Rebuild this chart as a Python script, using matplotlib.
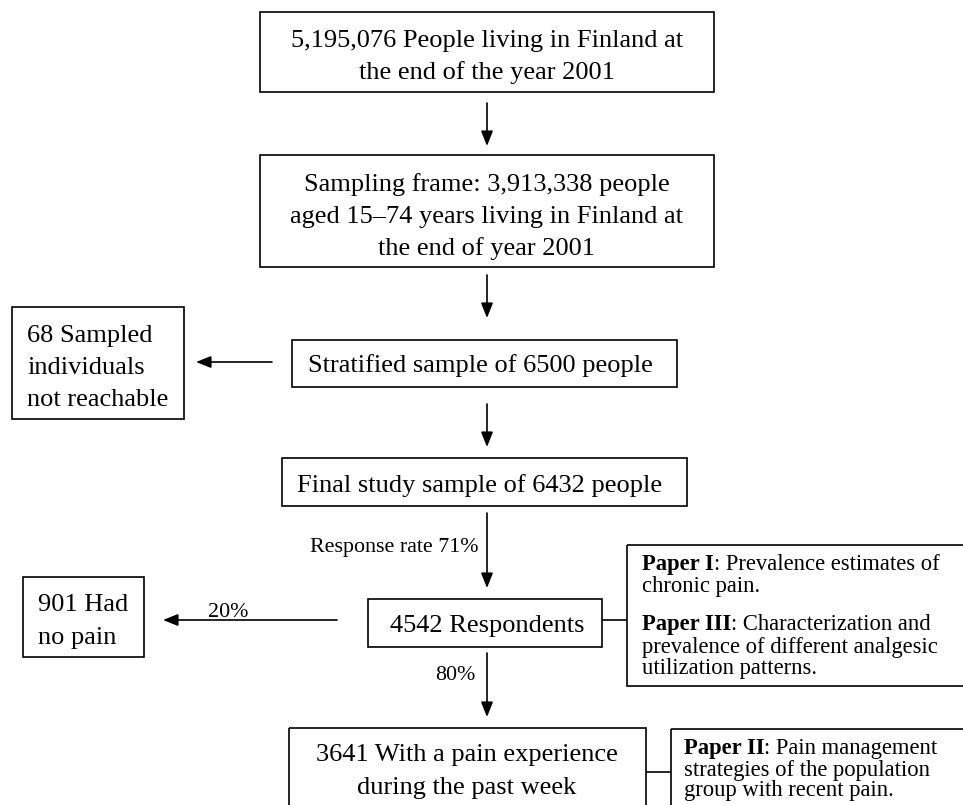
import matplotlib
matplotlib.use("Agg")
import matplotlib.pyplot as plt
from matplotlib.patches import Rectangle

plt.rcParams['font.family'] = ['Liberation Serif', 'DejaVu Serif']

# ---- data ----
population = 5195076
frame = 3913338
stratified = 6500
final_sample = 6432
not_reachable = 68
respondents = 4542
no_pain = 901
with_pain = 3641
response_rate = 71
pct_no_pain = 20
pct_pain = 80

box1_lines = [f"{population:,} People living in Finland at", "the end of the year 2001"]
box2_lines = [f"Sampling frame: {frame:,} people", "aged 15\u201374 years living in Finland at", "the end of year 2001"]
box3_text = f"Stratified sample of {stratified} people"
box68_lines = [f"{not_reachable} Sampled", "individuals", "not reachable"]
box4_text = f"Final study sample of {final_sample} people"
box5_text = f"{respondents} Respondents"
box901_lines = [f"{no_pain} Had", "no pain"]
box6_lines = [f"{with_pain} With a pain experience", "during the past week"]
paper13_lines = [("Paper I", ": Prevalence estimates of"), ("", "chronic pain."), None,
                 ("Paper III", ": Characterization and"), ("", "prevalence of different analgesic"),
                 ("", "utilization patterns.")]
paper2_lines = [("Paper II", ": Pain management"), ("", "strategies of the population"),
                ("", "group with recent pain.")]

W, H = 963, 805
fig = plt.figure(figsize=(W / 100, H / 100), dpi=100)
ax = fig.add_axes([0, 0, 1, 1])
ax.set_xlim(0, W)
ax.set_ylim(H, 0)
ax.axis('off')

BIG = 19
SMALL = 15.8
PAP = 16.3
LW = 1.2


def box(x0, y0, x1, y1):
    ax.add_patch(Rectangle((x0, y0), x1 - x0, y1 - y0, fill=False, ec='black', lw=LW, clip_on=False))


def arrow(x0, y0, x1, y1):
    ax.annotate('', xy=(x1, y1), xytext=(x0, y0),
                arrowprops=dict(arrowstyle='-|>,head_length=0.45,head_width=0.18', mutation_scale=20,
                                lw=LW, color='black', shrinkA=0, shrinkB=0))


def line(x0, y0, x1, y1):
    ax.plot([x0, x1], [y0, y1], color='black', lw=LW, solid_capstyle='butt')


def lines_at(lines, x, ys, ha='center', size=BIG):
    for t, y in zip(lines, ys):
        ax.text(x, y, t, ha=ha, va='baseline', fontsize=size)


# box 1
box(260, 12, 714, 92)
lines_at(box1_lines, 487, [47, 79])
arrow(487, 103, 487, 146)

# box 2
box(260, 155, 714, 267)
lines_at(box2_lines, 487, [191, 223, 255])
arrow(487, 275, 487, 318)

# box 3
box(292, 340, 677, 387)
ax.text(480, 372, box3_text, ha='center', va='baseline', fontsize=BIG)
arrow(272, 362, 196, 362)

# box 68
box(12, 307, 184, 419)
lines_at(box68_lines, 27, [342, 374, 406], ha='left')
arrow(487, 404, 487, 447)

# box 4
box(282, 458, 687, 506)
ax.text(480, 492, box4_text, ha='center', va='baseline', fontsize=BIG)
arrow(487, 513, 487, 588)
ax.text(478, 552, f"Response rate {response_rate}%", ha='right', va='baseline', fontsize=SMALL)

# box 5
box(368, 599, 602, 647)
ax.text(487, 632, box5_text, ha='center', va='baseline', fontsize=BIG)
arrow(337, 620, 163, 620)
ax.text(228, 617, f"{pct_no_pain}%", ha='center', va='baseline', fontsize=SMALL)
ax.text(455, 680, f"{pct_pain}%", ha='center', va='baseline', fontsize=SMALL)
arrow(487, 653, 487, 717)

# box 901
box(23, 577, 144, 657)
lines_at(box901_lines, 38, [611, 644], ha='left')

# box 6
box(289, 728, 646, 840)
lines_at(box6_lines, 467, [761, 794])

# paper boxes
line(602, 620, 627, 620)
box(627, 545, 980, 686)
line(646, 772, 671, 772)
box(671, 729, 980, 840)

fig.canvas.draw()
renderer = fig.canvas.get_renderer()


def paper_text(items, x, ys):
    for item, y in zip(items, ys):
        if item is None:
            continue
        bold, rest = item
        xr = x
        if bold:
            tb = ax.text(x, y, bold, ha='left', va='baseline', fontsize=PAP, fontweight='bold')
            bb = tb.get_window_extent(renderer=renderer)
            xr = bb.x1
        ax.text(xr, y, rest, ha='left', va='baseline', fontsize=PAP)


paper_text(paper13_lines, 642, [570, 592, 0, 630, 653, 674])
paper_text(paper2_lines, 684, [754, 776, 796])

fig.savefig('out.png', dpi=100)
